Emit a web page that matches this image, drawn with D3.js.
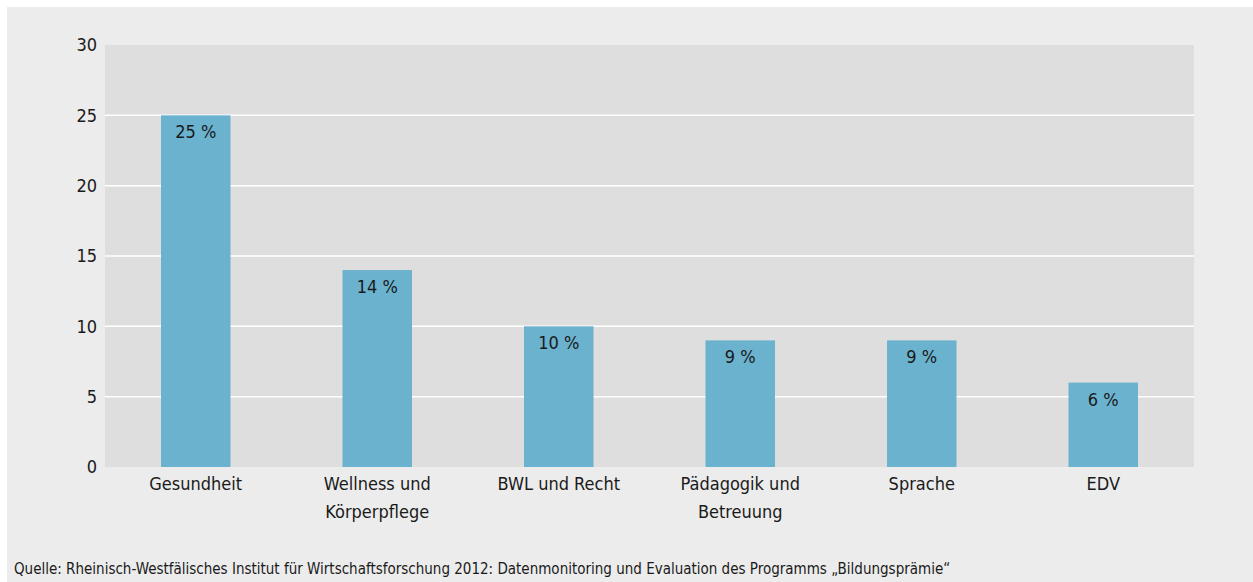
<!DOCTYPE html>
<html lang="de">
<head>
<meta charset="utf-8">
<script src="https://cdn.jsdelivr.net/npm/d3@7"></script>
<style>
  html, body { margin: 0; padding: 0; background: #ffffff; }
  svg { display: block; }
  text { font-family: "Liberation Sans Narrow", "DejaVu Sans Condensed", "Open Sans", sans-serif; fill: #1a1a1a; }
</style>
</head>
<body>
<svg id="chart" width="1253" height="582"></svg>
<script>
// Weiterbildungsthemen (Anteile in Prozent)
const categories = ["Gesundheit", "Wellness und\nKörperpflege", "BWL und Recht", "Pädagogik und\nBetreuung", "Sprache", "EDV"];
const values = [25, 14, 10, 9, 9, 6];
const yTicks = [0, 5, 10, 15, 20, 25, 30];
const sourceNote = "Quelle: Rheinisch-Westfälisches Institut für Wirtschaftsforschung 2012: Datenmonitoring und Evaluation des Programms „Bildungsprämie“";

const svg = d3.select("#chart");
const W = 1253, H = 582;

// outer panel
svg.append("rect").attr("x", 7).attr("y", 7).attr("width", W - 7).attr("height", H - 7).attr("fill", "#ececec");

const plot = { left: 105, right: 1194, top: 45, bottom: 467 };

const x = d3.scaleBand()
  .domain(categories)
  .range([plot.left, plot.right])
  .paddingInner(0.617)
  .paddingOuter(0.3085);

const y = d3.scaleLinear().domain([0, 30]).range([plot.bottom, plot.top]);

// plot background
svg.append("rect")
  .attr("x", plot.left).attr("y", plot.top)
  .attr("width", plot.right - plot.left).attr("height", plot.bottom - plot.top)
  .attr("fill", "#dedede");

// gridlines
svg.append("g")
  .selectAll("line")
  .data(yTicks.filter(d => d > 0 && d < 30))
  .join("line")
  .attr("x1", plot.left).attr("x2", plot.right)
  .attr("y1", d => y(d)).attr("y2", d => y(d))
  .attr("stroke", "#ffffff").attr("stroke-width", 1.5);

// y axis labels
const yAxis = d3.axisLeft(y).tickValues(yTicks).tickSize(0).tickPadding(8);
const gy = svg.append("g").attr("transform", `translate(${plot.left},0)`).call(yAxis);
gy.select(".domain").remove();
gy.selectAll("text").style("font-size", "18px").attr("fill", "#1a1a1a");

// bars
svg.append("g")
  .selectAll("rect")
  .data(values)
  .join("rect")
  .attr("x", (d, i) => x(categories[i]))
  .attr("y", d => y(d))
  .attr("width", x.bandwidth())
  .attr("height", d => y(0) - y(d))
  .attr("fill", "#6bb2cf");

// value labels
svg.append("g")
  .selectAll("text")
  .data(values)
  .join("text")
  .attr("x", (d, i) => x(categories[i]) + x.bandwidth() / 2)
  .attr("y", d => y(d) + 23)
  .attr("text-anchor", "middle")
  .style("font-size", "18px")
  .text(d => d + " %");

// category labels
const catG = svg.append("g");
categories.forEach(c => {
  const t = catG.append("text")
    .attr("x", x(c) + x.bandwidth() / 2)
    .attr("y", 490)
    .attr("text-anchor", "middle")
    .style("font-size", "18px");
  c.split("\n").forEach((line, j) => {
    t.append("tspan").attr("x", x(c) + x.bandwidth() / 2).attr("dy", j === 0 ? 0 : 28).text(line);
  });
});

// source note
svg.append("text")
  .attr("x", 14).attr("y", 574)
  .style("font-size", "15px")
  .text(sourceNote);
</script>
</body>
</html>
